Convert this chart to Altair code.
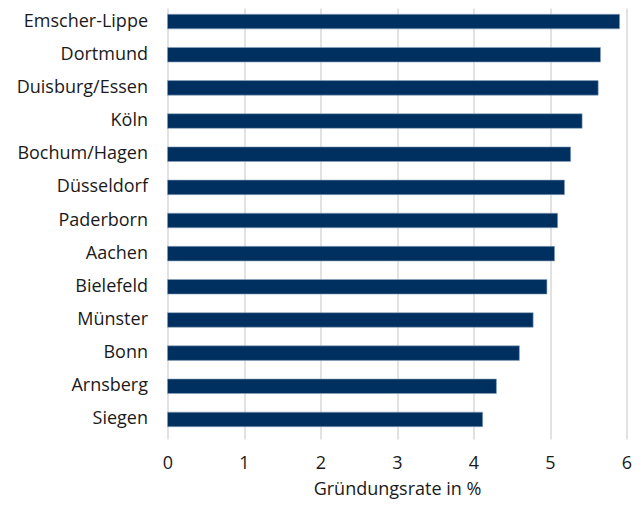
import altair as alt
import pandas as pd

regions = ["Emscher-Lippe", "Dortmund", "Duisburg/Essen", "Köln", "Bochum/Hagen",
           "Düsseldorf", "Paderborn", "Aachen", "Bielefeld", "Münster", "Bonn",
           "Arnsberg", "Siegen"]
rates = [5.91, 5.66, 5.63, 5.42, 5.27, 5.19, 5.10, 5.06, 4.96, 4.78, 4.60, 4.30, 4.12]

df = pd.DataFrame({"region": regions, "rate": rates})

FONT = "Open Sans"
TXT = "#1a1a1a"

chart = alt.Chart(df).mark_bar(
    color="#00305F", stroke="#8FA4BF", strokeWidth=0.6
).encode(
    x=alt.X("rate:Q", scale=alt.Scale(domain=[0, 6], nice=False),
            axis=alt.Axis(title="Gründungsrate in %", values=[0, 1, 2, 3, 4, 5, 6],
                          format="d", grid=True, gridColor="#D9D9D9", gridWidth=1.5,
                          domain=False, ticks=False, labelFontSize=18, labelPadding=18,
                          labelFlush=False,
                          labelColor=TXT, labelFont=FONT,
                          titleFont=FONT, titleFontSize=18, titleFontWeight="normal",
                          titleColor=TXT, titlePadding=8)),
    y=alt.Y("region:N", sort=regions,
            scale=alt.Scale(paddingInner=0.56, paddingOuter=0.28, range=[-3, 428]),
            axis=alt.Axis(title=None, domain=False, ticks=False, labelFontSize=18,
                          labelPadding=20, labelColor=TXT, labelFont=FONT,
                          labelLimit=300))
).properties(
    width=459, height=428,
    autosize=alt.AutoSizeParams(type="none"),
    padding={"left": 159.5, "top": 0, "right": 8, "bottom": 63}
).configure_view(stroke=None)

chart.save("out.html", embed_options={"renderer": "svg", "actions": False})
